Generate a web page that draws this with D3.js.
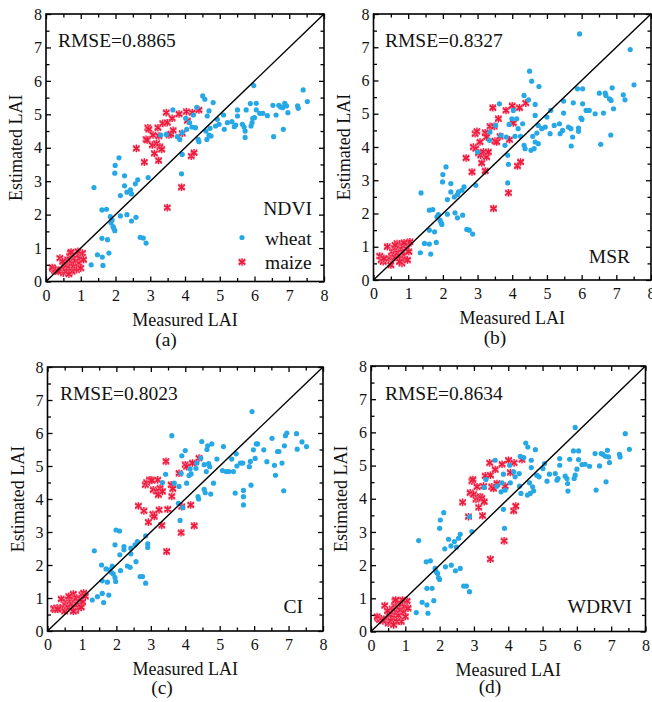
<!DOCTYPE html>
<html><head><meta charset="utf-8">
<script src="https://cdn.jsdelivr.net/npm/d3@7"></script>
<style>
body{margin:0;background:#fff}
svg text{font-family:"Times New Roman","Liberation Serif",Tinos,"DejaVu Serif",serif !important;fill:#111}
</style>
</head><body><svg id="chart" width="652" height="702"></svg>
<script>
// ---------- DATA ----------
const indexNames = ["NDVI", "MSR", "CI", "WDRVI"];
const panelLetters = ["(a)", "(b)", "(c)", "(d)"];
const rmseValues = ["0.8865", "0.8327", "0.8023", "0.8634"];
const axisTicks = [0, 1, 2, 3, 4, 5, 6, 7, 8];
const legendLabels = ["wheat", "maize"];
const xTitle = "Measured LAI";
const yTitle = "Estimated LAI";

const wheatNDVI = [[1.38,2.81],[1.61,2.14],[1.74,2.16],[1.61,1.29],[1.77,1.25],[1.48,0.80],[1.62,0.73],[1.81,0.85],[1.30,0.50],[1.64,0.48],[1.85,1.94],[1.90,1.84],[1.87,1.76],[1.95,1.59],[1.98,1.52],[1.93,1.64],[1.99,3.47],[1.98,3.24],[2.10,3.70],[2.26,3.16],[2.26,2.86],[2.14,2.57],[2.33,2.67],[2.43,2.74],[2.46,2.62],[2.57,2.92],[2.64,3.04],[2.14,1.96],[2.33,2.00],[2.46,1.81],[2.59,1.92],[2.71,1.32],[2.80,1.30],[2.88,1.15],[2.94,3.11],
[3.30,4.38],[3.46,4.40],[3.65,5.13],[3.78,4.33],[3.85,4.25],[3.92,3.80],[3.90,3.22],[3.92,4.45],[4.02,4.88],[4.05,4.55],[4.13,4.75],[4.20,4.62],[4.24,4.98],[4.30,4.60],[4.34,5.21],[4.38,4.25],[4.40,4.18],[4.51,5.55],[4.57,5.45],[4.60,4.50],[4.63,4.25],[4.64,4.95],[4.69,5.10],[4.69,4.38],[4.72,4.58],[4.75,4.35],[4.81,5.35],[4.88,4.65],[4.93,4.85],[4.98,4.70],
[5.11,4.98],[5.13,4.55],[5.22,4.75],[5.35,4.78],[5.42,4.63],[5.46,4.68],[5.51,5.13],[5.51,4.95],[5.65,4.70],[5.70,4.62],[5.73,4.31],[5.73,4.50],[5.76,5.13],[5.88,5.32],[5.90,4.65],[5.93,4.75],[5.95,4.88],[6.00,4.90],[5.98,5.86],[6.05,5.33],[6.05,5.13],
[6.15,5.03],[6.24,5.03],[6.37,4.96],[6.53,5.27],[6.55,4.33],[6.62,4.98],[6.70,5.27],[6.75,5.22],[6.81,5.20],[6.83,4.55],[6.87,5.33],[6.92,5.25],[6.96,5.05],[7.24,5.25],[7.26,5.18],[7.40,5.73],[7.52,5.38]];

const maizeNDVI = [[0.20,0.38],[0.25,0.32],[0.18,0.42],[0.28,0.36],[0.40,0.70],[0.45,0.35],[0.50,0.25],[0.52,0.45],[0.55,0.55],[0.60,0.50],[0.62,0.65],[0.65,0.40],[0.68,0.75],[0.70,0.85],[0.72,0.60],[0.75,0.55],[0.78,0.80],[0.80,0.45],[0.82,0.70],[0.85,0.62],[0.88,0.35],[0.90,0.78],[0.95,0.55],[0.98,0.70],[1.00,0.40],[1.05,0.85],[1.08,0.65],[0.58,0.30],[0.35,0.30],[0.75,0.30],[0.92,0.90],[0.48,0.60],[0.66,0.22],[0.72,0.88],
[2.60,3.98],[2.88,4.25],[2.93,4.60],[2.96,4.55],[2.91,4.23],[2.83,3.57],[3.06,4.08],[3.08,4.38],[3.12,3.83],[3.18,4.13],[3.25,4.35],[3.22,4.60],[3.28,4.03],[3.24,3.62],[3.33,3.95],[3.36,4.73],[3.46,5.05],[3.49,4.75],[3.54,4.38],[3.59,4.41],[3.63,4.88],[3.66,4.52],[3.49,2.21],[3.83,5.01],[3.92,4.43],[3.90,2.82],[4.04,5.08],[4.07,4.81],[4.18,3.75],[4.26,3.85],[4.21,5.05],[4.40,5.13]];

const wheatMSR = [[1.37,2.62],[1.35,0.82],[1.47,1.10],[1.61,1.08],[1.65,0.78],[1.61,2.10],[1.71,2.12],[1.61,1.50],[1.76,1.45],[1.81,1.13],[1.83,1.90],[1.87,1.97],[1.92,1.80],[1.95,1.72],[1.97,1.67],[1.99,2.95],[2.00,3.17],[2.09,3.40],[2.13,2.42],[2.13,1.98],[2.23,2.90],[2.23,2.65],[2.33,2.50],[2.35,2.02],[2.42,2.57],[2.45,2.65],[2.42,1.87],[2.55,2.70],[2.57,1.95],[2.61,2.80],[2.69,1.52],[2.76,1.50],[2.86,1.38],[2.95,2.85],[3.00,3.85],
[3.34,4.20],[3.36,4.45],[3.52,4.65],[3.63,5.30],[3.67,4.35],[3.79,4.05],[3.83,4.30],[3.87,3.75],[3.89,3.48],[3.87,2.92],[3.91,4.68],[3.99,4.85],[4.03,5.10],[4.08,4.32],[4.13,4.85],[4.17,4.55],[4.24,4.32],[4.30,4.70],[4.34,4.05],[4.37,3.95],[4.34,5.55],[4.47,5.42],[4.50,6.28],[4.56,5.98],[4.59,4.32],[4.54,3.90],[4.63,3.95],[4.66,4.15],[4.66,4.95],[4.66,5.28],[4.71,4.42],[4.75,4.10],[4.77,5.82],[4.75,4.65],[4.85,4.55],[4.95,4.60],[5.00,4.90],
[5.09,4.40],[5.11,5.10],[5.21,4.65],[5.36,4.70],[5.38,4.40],[5.45,4.50],[5.48,5.02],[5.48,5.38],[5.62,4.60],[5.69,4.55],[5.74,4.30],[5.70,4.03],[5.76,5.33],[5.88,5.75],[5.91,4.57],[5.91,4.47],[5.94,7.40],[5.98,4.87],[6.01,4.83],[6.03,5.75],[6.03,5.30],[6.13,5.10],[6.22,5.10],[6.39,5.00],[6.51,5.62],[6.55,4.08],[6.63,5.02],[6.68,5.62],[6.70,5.55],[6.80,5.45],[6.85,5.40],[6.84,4.36],[6.88,5.78],[6.92,5.15],[7.20,5.57],[7.25,5.42],[7.40,6.93],[7.51,5.87]];

const maizeMSR = [[0.18,0.72],[0.22,0.60],[0.28,0.55],[0.35,0.62],[0.40,1.00],[0.45,0.65],[0.50,0.45],[0.52,0.72],[0.55,0.85],[0.58,0.78],[0.60,0.95],[0.62,0.68],[0.65,0.88],[0.68,1.10],[0.70,0.82],[0.72,0.98],[0.75,1.08],[0.78,0.70],[0.80,0.92],[0.82,0.50],[0.85,1.02],[0.88,0.75],[0.90,0.62],[0.95,0.95],[1.00,1.10],[1.05,1.15],[1.02,0.85],[0.98,0.60],[0.75,0.55],[0.62,1.05],[0.30,0.65],[0.88,1.12],
[2.67,3.67],[2.84,3.25],[2.88,4.00],[2.95,3.95],[2.93,4.40],[2.98,4.47],[3.03,3.82],[3.07,4.15],[3.09,3.75],[3.12,3.52],[3.17,3.85],[3.22,4.43],[3.22,3.28],[3.26,4.30],[3.26,3.70],[3.31,3.85],[3.36,4.62],[3.44,5.18],[3.48,4.62],[3.46,2.15],[3.50,4.18],[3.55,4.15],[3.60,4.85],[3.65,4.32],[3.82,5.10],[3.89,2.62],[3.92,4.22],[4.00,5.24],[4.03,4.72],[4.15,3.43],[4.24,3.55],[4.21,5.18],[4.39,5.32]];

const wheatCI = [[1.36,2.43],[1.30,0.94],[1.45,1.04],[1.59,1.14],[1.63,0.86],[1.78,1.09],[1.57,2.00],[1.70,1.88],[1.59,1.52],[1.74,1.48],[1.81,1.85],[1.88,1.97],[1.86,1.77],[1.91,1.73],[1.96,1.62],[1.98,1.50],[1.96,2.61],[1.99,3.06],[2.09,3.03],[2.10,2.31],[2.12,1.83],[2.22,2.56],[2.22,2.46],[2.32,1.97],[2.40,1.93],[2.42,2.51],[2.42,2.34],[2.54,2.61],[2.57,2.10],[2.61,2.71],[2.69,1.65],[2.76,1.65],[2.85,2.88],[2.85,1.45],[2.91,2.64],[2.91,2.53],
[3.34,4.50],[3.43,4.75],[3.61,5.92],[3.68,4.48],[3.80,3.87],[3.82,4.38],[3.85,3.35],[3.88,4.78],[3.90,5.31],[3.93,3.74],[4.00,5.47],[4.04,4.48],[4.11,4.71],[4.14,4.91],[4.17,4.76],[4.31,4.93],[4.34,5.09],[4.37,4.07],[4.39,4.00],[4.45,5.24],[4.48,5.74],[4.55,4.29],[4.55,5.04],[4.58,4.19],[4.61,4.83],[4.63,5.50],[4.65,5.61],[4.68,5.07],[4.71,4.98],[4.74,4.15],[4.77,5.67],[4.82,4.48],[4.92,5.21],
[5.08,4.86],[5.11,5.59],[5.19,4.83],[5.27,4.83],[5.35,5.21],[5.40,4.83],[5.45,4.18],[5.48,5.37],[5.50,5.00],[5.60,5.09],[5.67,5.09],[5.69,4.26],[5.69,4.07],[5.69,3.82],[5.86,4.98],[5.89,5.14],[5.91,4.42],[5.94,6.65],[5.98,5.49],[6.03,5.23],[6.06,5.67],[6.10,5.67],[6.28,5.49],[6.37,5.13],[6.52,5.84],[6.59,5.02],[6.62,4.72],[6.68,5.44],[6.72,5.44],[6.81,5.09],[6.86,4.25],[6.88,5.61],[6.91,5.92],[6.95,6.00],[7.23,5.98],[7.25,5.51],[7.39,5.73],[7.52,5.59]];

const maizeCI = [[0.18,0.68],[0.22,0.65],[0.28,0.70],[0.35,0.68],[0.40,0.97],[0.45,0.72],[0.50,0.60],[0.52,0.80],[0.55,0.88],[0.58,0.75],[0.60,0.95],[0.62,0.70],[0.65,0.90],[0.68,1.05],[0.70,0.82],[0.72,0.98],[0.75,1.12],[0.78,0.72],[0.80,0.95],[0.82,0.62],[0.85,1.00],[0.88,0.80],[0.90,0.70],[0.95,0.98],[1.00,1.10],[1.05,1.15],[1.02,0.88],[0.98,0.72],[0.75,0.60],[0.62,1.05],[0.30,0.66],[1.10,1.05],
[2.64,3.79],[2.80,3.64],[2.84,4.43],[2.88,4.50],[2.93,3.30],[2.96,4.58],[3.00,4.58],[3.03,4.56],[3.07,4.28],[3.06,3.54],[3.10,3.47],[3.17,4.23],[3.20,4.58],[3.22,4.13],[3.24,3.67],[3.27,4.33],[3.32,3.20],[3.34,4.23],[3.44,5.14],[3.46,2.41],[3.49,3.69],[3.59,4.43],[3.61,4.08],[3.64,4.31],[3.82,4.78],[3.90,3.77],[3.88,2.98],[4.00,5.04],[4.04,4.98],[4.16,3.82],[4.21,5.09],[4.26,3.19],[4.40,5.24]];

const wheatWDRVI = [[1.39,2.74],[1.32,0.57],[1.49,0.88],[1.63,0.80],[1.66,0.55],[1.83,0.93],[1.63,1.30],[1.78,1.30],[1.61,2.10],[1.73,2.13],[1.87,1.90],[1.90,1.80],[1.94,1.75],[1.97,1.62],[2.00,1.57],[2.00,3.11],[2.02,3.36],[2.12,3.58],[2.15,2.49],[2.17,1.95],[2.26,2.78],[2.33,2.58],[2.34,2.00],[2.43,2.71],[2.49,2.54],[2.46,1.83],[2.55,2.81],[2.60,2.93],[2.60,1.90],[2.70,1.37],[2.78,1.37],[2.87,1.20],[2.87,3.46],[2.94,3.01],
[3.30,4.34],[3.35,4.58],[3.62,5.16],[3.67,4.38],[3.79,4.21],[3.82,4.48],[3.86,4.74],[3.86,3.68],[3.89,3.11],[3.91,4.26],[4.04,5.01],[4.06,4.48],[4.16,4.81],[4.20,4.66],[4.32,4.76],[4.33,4.38],[4.35,5.28],[4.37,4.16],[4.45,5.24],[4.51,5.68],[4.56,4.11],[4.57,5.56],[4.62,4.48],[4.64,4.16],[4.67,5.16],[4.67,4.94],[4.71,4.36],[4.74,4.24],[4.79,5.48],[4.83,4.71],[4.90,4.66],
[5.01,4.91],[5.06,5.06],[5.13,4.53],[5.20,4.74],[5.37,4.76],[5.42,4.56],[5.45,4.61],[5.50,5.21],[5.50,5.01],[5.66,4.68],[5.71,4.61],[5.74,4.23],[5.73,4.46],[5.79,5.19],[5.90,5.44],[5.92,4.61],[5.95,4.71],[5.95,6.15],[6.00,4.89],[6.05,5.44],[6.05,5.18],[6.15,5.03],[6.24,5.04],[6.37,4.98],[6.53,5.36],[6.56,4.26],[6.66,4.99],[6.71,5.36],[6.76,5.34],[6.83,5.28],[6.85,4.51],[6.89,5.46],[6.92,5.26],[6.95,5.09],[7.24,5.34],[7.26,5.26],[7.41,5.96],[7.53,5.49]];

const maizeWDRVI = [[0.20,0.40],[0.25,0.35],[0.18,0.45],[0.30,0.38],[0.40,0.78],[0.45,0.38],[0.50,0.25],[0.52,0.48],[0.55,0.58],[0.60,0.52],[0.62,0.68],[0.65,0.42],[0.68,0.78],[0.70,0.92],[0.72,0.62],[0.75,0.58],[0.78,0.85],[0.80,0.48],[0.82,0.72],[0.85,0.65],[0.88,0.30],[0.90,0.82],[0.95,0.58],[0.98,0.75],[1.00,0.45],[1.05,0.92],[1.08,0.70],[0.58,0.32],[0.35,0.32],[0.75,0.30],[0.92,0.95],[0.48,0.62],[0.66,0.20],[0.72,0.95],
[2.67,3.89],[2.84,3.46],[2.89,4.18],[2.94,4.53],[2.97,4.58],[2.99,4.13],[3.06,3.98],[3.09,4.36],[3.11,4.04],[3.14,3.74],[3.18,4.06],[3.23,4.01],[3.25,3.49],[3.28,4.38],[3.30,3.91],[3.33,4.69],[3.46,5.08],[3.48,4.71],[3.48,2.18],[3.52,4.36],[3.57,4.31],[3.62,4.88],[3.67,4.46],[3.82,5.04],[3.88,2.73],[3.91,4.38],[4.01,5.16],[4.06,4.79],[4.16,3.64],[4.22,3.78],[4.17,5.08],[4.40,5.18]];

const wheatSeries = [wheatNDVI, wheatMSR, wheatCI, wheatWDRVI];
const maizeSeries = [maizeNDVI, maizeMSR, maizeCI, maizeWDRVI];

// ---------- LAYOUT ----------
const layout = [
  {left:46,   right:324,   top:14,  bottom:281.5, rmse:[58,46.5],  name:[312,215], letter:[166,346]},
  {left:373.5,right:651,   top:14,  bottom:280,   rmse:[385,46.5], name:[630,263], letter:[495,344]},
  {left:47.5, right:323,   top:367, bottom:631,   rmse:[60,399.5], name:[303,613], letter:[162,694]},
  {left:371,  right:645.5, top:366, bottom:631.5, rmse:[385,400],  name:[632,613], letter:[490,693]}
];
const blue = "#27a8e6", red = "#ee1b3d", pink = "#f7a3b6";
const serif = '"Times New Roman","Liberation Serif",Tinos,"DejaVu Serif",serif';

const svg = d3.select("#chart");
svg.append("rect").attr("width",652).attr("height",702).attr("fill","#fff");

function drawMaize(sel){
  sel.append("rect").attr("x",-3.6).attr("y",-3.6).attr("width",7.2).attr("height",7.2)
    .attr("fill",pink).attr("opacity",0.55);
  sel.append("path").attr("d", d3.symbol(d3.symbolAsterisk, 40)())
    .attr("fill","none").attr("stroke",red).attr("stroke-width",1.3);
  sel.append("path").attr("d", d3.symbol(d3.symbolX, 26)())
    .attr("fill","none").attr("stroke",red).attr("stroke-width",1.1);
}

layout.forEach((L, i) => {
  const x = d3.scaleLinear().domain([0,8]).range([L.left, L.right]);
  const y = d3.scaleLinear().domain([0,8]).range([L.bottom, L.top]);
  const g = svg.append("g").attr("font-family", serif);
  const minor = d3.range(0, 8.01, 0.5).filter(v => v % 1 !== 0);

  g.append("g").selectAll("g").data(maizeSeries[i]).join("g")
    .attr("transform", d => `translate(${x(d[0])},${y(d[1])})`).call(drawMaize);
  g.append("g").selectAll("circle").data(wheatSeries[i]).join("circle")
    .attr("cx", d => x(d[0])).attr("cy", d => y(d[1])).attr("r", 2.6).attr("fill", blue);

  g.append("line").attr("x1",x(0)).attr("y1",y(0)).attr("x2",x(8)).attr("y2",y(8))
    .attr("stroke","#000").attr("stroke-width",1.4);

  const styleAxis = a => { a.attr("font-family", serif); a.select(".domain").remove(); a.selectAll(".tick line").attr("stroke","#000").attr("stroke-width",1.3); };
  const styleText = a => a.selectAll("text").attr("font-size",16).attr("font-family",serif).attr("fill","#111");
  g.append("g").attr("transform",`translate(0,${L.bottom})`)
    .call(d3.axisBottom(x).tickValues(axisTicks).tickSize(-5).tickPadding(8).tickFormat(d3.format("d")))
    .call(styleAxis).call(styleText);
  g.append("g").attr("transform",`translate(0,${L.bottom})`)
    .call(d3.axisBottom(x).tickValues(minor).tickSize(-3.5).tickFormat("")).call(styleAxis);
  g.append("g").attr("transform",`translate(${L.left},0)`)
    .call(d3.axisLeft(y).tickValues(axisTicks).tickSize(-5).tickPadding(4).tickFormat(d3.format("d")))
    .call(styleAxis).call(styleText);
  g.append("g").attr("transform",`translate(${L.left},0)`)
    .call(d3.axisLeft(y).tickValues(minor).tickSize(-3.5).tickFormat("")).call(styleAxis);
  g.append("g").attr("transform",`translate(0,${L.top})`)
    .call(d3.axisTop(x).tickValues(axisTicks).tickSize(-5).tickFormat("")).call(styleAxis);
  g.append("g").attr("transform",`translate(0,${L.top})`)
    .call(d3.axisTop(x).tickValues(minor).tickSize(-3.5).tickFormat("")).call(styleAxis);
  g.append("g").attr("transform",`translate(${L.right},0)`)
    .call(d3.axisRight(y).tickValues(axisTicks).tickSize(-5).tickFormat("")).call(styleAxis);
  g.append("g").attr("transform",`translate(${L.right},0)`)
    .call(d3.axisRight(y).tickValues(minor).tickSize(-3.5).tickFormat("")).call(styleAxis);

  g.append("rect").attr("x",L.left).attr("y",L.top).attr("width",L.right-L.left).attr("height",L.bottom-L.top)
    .attr("fill","none").attr("stroke","#000").attr("stroke-width",1.6);

  g.append("text").attr("x",(L.left+L.right)/2).attr("y",L.bottom+44).attr("text-anchor","middle")
    .attr("font-size",18).text(xTitle);
  g.append("text").attr("transform",`translate(${L.left-24},${(L.top+L.bottom)/2}) rotate(-90)`)
    .attr("text-anchor","middle").attr("font-size",18).text(yTitle);
  g.append("text").attr("x",L.rmse[0]).attr("y",L.rmse[1]).attr("font-size",19.5).text("RMSE=" + rmseValues[i]);
  g.append("text").attr("x",L.name[0]).attr("y",L.name[1]).attr("text-anchor","end").attr("font-size",19.5).text(indexNames[i]);
  g.append("text").attr("x",L.letter[0]).attr("y",L.letter[1]).attr("text-anchor","middle").attr("font-size",19.5).text(panelLetters[i]);

  if (i === 0) {
    const lg = g.append("g");
    lg.append("circle").attr("cx",242).attr("cy",237.5).attr("r",2.6).attr("fill",blue);
    lg.append("text").attr("x",265).attr("y",245).attr("font-size",19.5).text(legendLabels[0]);
    lg.append("g").attr("transform","translate(242,262)").call(drawMaize);
    lg.append("text").attr("x",265).attr("y",268.5).attr("font-size",19.5).text(legendLabels[1]);
  }
});
</script>
</body></html>
